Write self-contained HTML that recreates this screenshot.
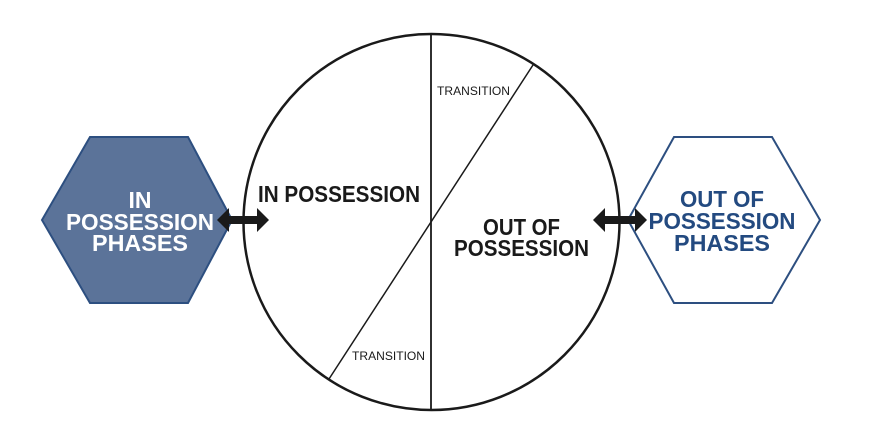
<!DOCTYPE html>
<html><head><meta charset="utf-8"><style>
html,body{margin:0;padding:0;background:#fff;width:875px;height:427px;overflow:hidden}
text{font-family:"Liberation Sans",sans-serif;font-weight:bold}
</style></head><body>
<svg width="875" height="427" viewBox="0 0 875 427" xmlns="http://www.w3.org/2000/svg">
<circle cx="431.5" cy="222" r="188" fill="#fff" stroke="#1a1a1a" stroke-width="2.5"/>
<line x1="431" y1="34" x2="431" y2="410" stroke="#1a1a1a" stroke-width="1.8"/>
<line x1="533" y1="65" x2="329" y2="379" stroke="#1a1a1a" stroke-width="1.5"/>
<polygon points="42,220 90,137 188,137 232,220 188,303 90,303" fill="#5b7399" stroke="#2d4f80" stroke-width="2"/>
<polygon points="628,220 674,137 772,137 820,220 772,303 674,303" fill="#fff" stroke="#2d4f80" stroke-width="2"/>
<!-- arrows -->
<polygon points="217,220 229,208 229,216 257,216 257,208 269,220 257,232 257,224 229,224 229,232" fill="#1a1a1a"/>
<polygon points="593,220 605,208 605,216 635,216 635,208 647,220 635,232 635,224 605,224 605,232" fill="#1a1a1a"/>
<g fill="#fff" font-size="23" text-anchor="middle">
<text x="140" y="208">IN</text>
<text x="140" y="230" textLength="148" lengthAdjust="spacingAndGlyphs">POSSESSION</text>
<text x="140" y="251" textLength="96" lengthAdjust="spacingAndGlyphs">PHASES</text>
</g>
<g fill="#234a80" font-size="23" text-anchor="middle">
<text x="722" y="207" textLength="84" lengthAdjust="spacingAndGlyphs">OUT OF</text>
<text x="722" y="229" textLength="147" lengthAdjust="spacingAndGlyphs">POSSESSION</text>
<text x="722" y="251" textLength="96" lengthAdjust="spacingAndGlyphs">PHASES</text>
</g>
<g fill="#1a1a1a" font-size="23">
<text x="258" y="202" textLength="162" lengthAdjust="spacingAndGlyphs">IN POSSESSION</text>
<text x="483" y="235" textLength="77" lengthAdjust="spacingAndGlyphs">OUT OF</text>
<text x="454" y="256" textLength="135" lengthAdjust="spacingAndGlyphs">POSSESSION</text>
</g>
<g fill="#1a1a1a" font-size="12" style="font-weight:normal">
<text x="437" y="95" textLength="73" lengthAdjust="spacingAndGlyphs" style="font-weight:normal">TRANSITION</text>
<text x="352" y="360" textLength="73" lengthAdjust="spacingAndGlyphs" style="font-weight:normal">TRANSITION</text>
</g>
</svg>
</body></html>
